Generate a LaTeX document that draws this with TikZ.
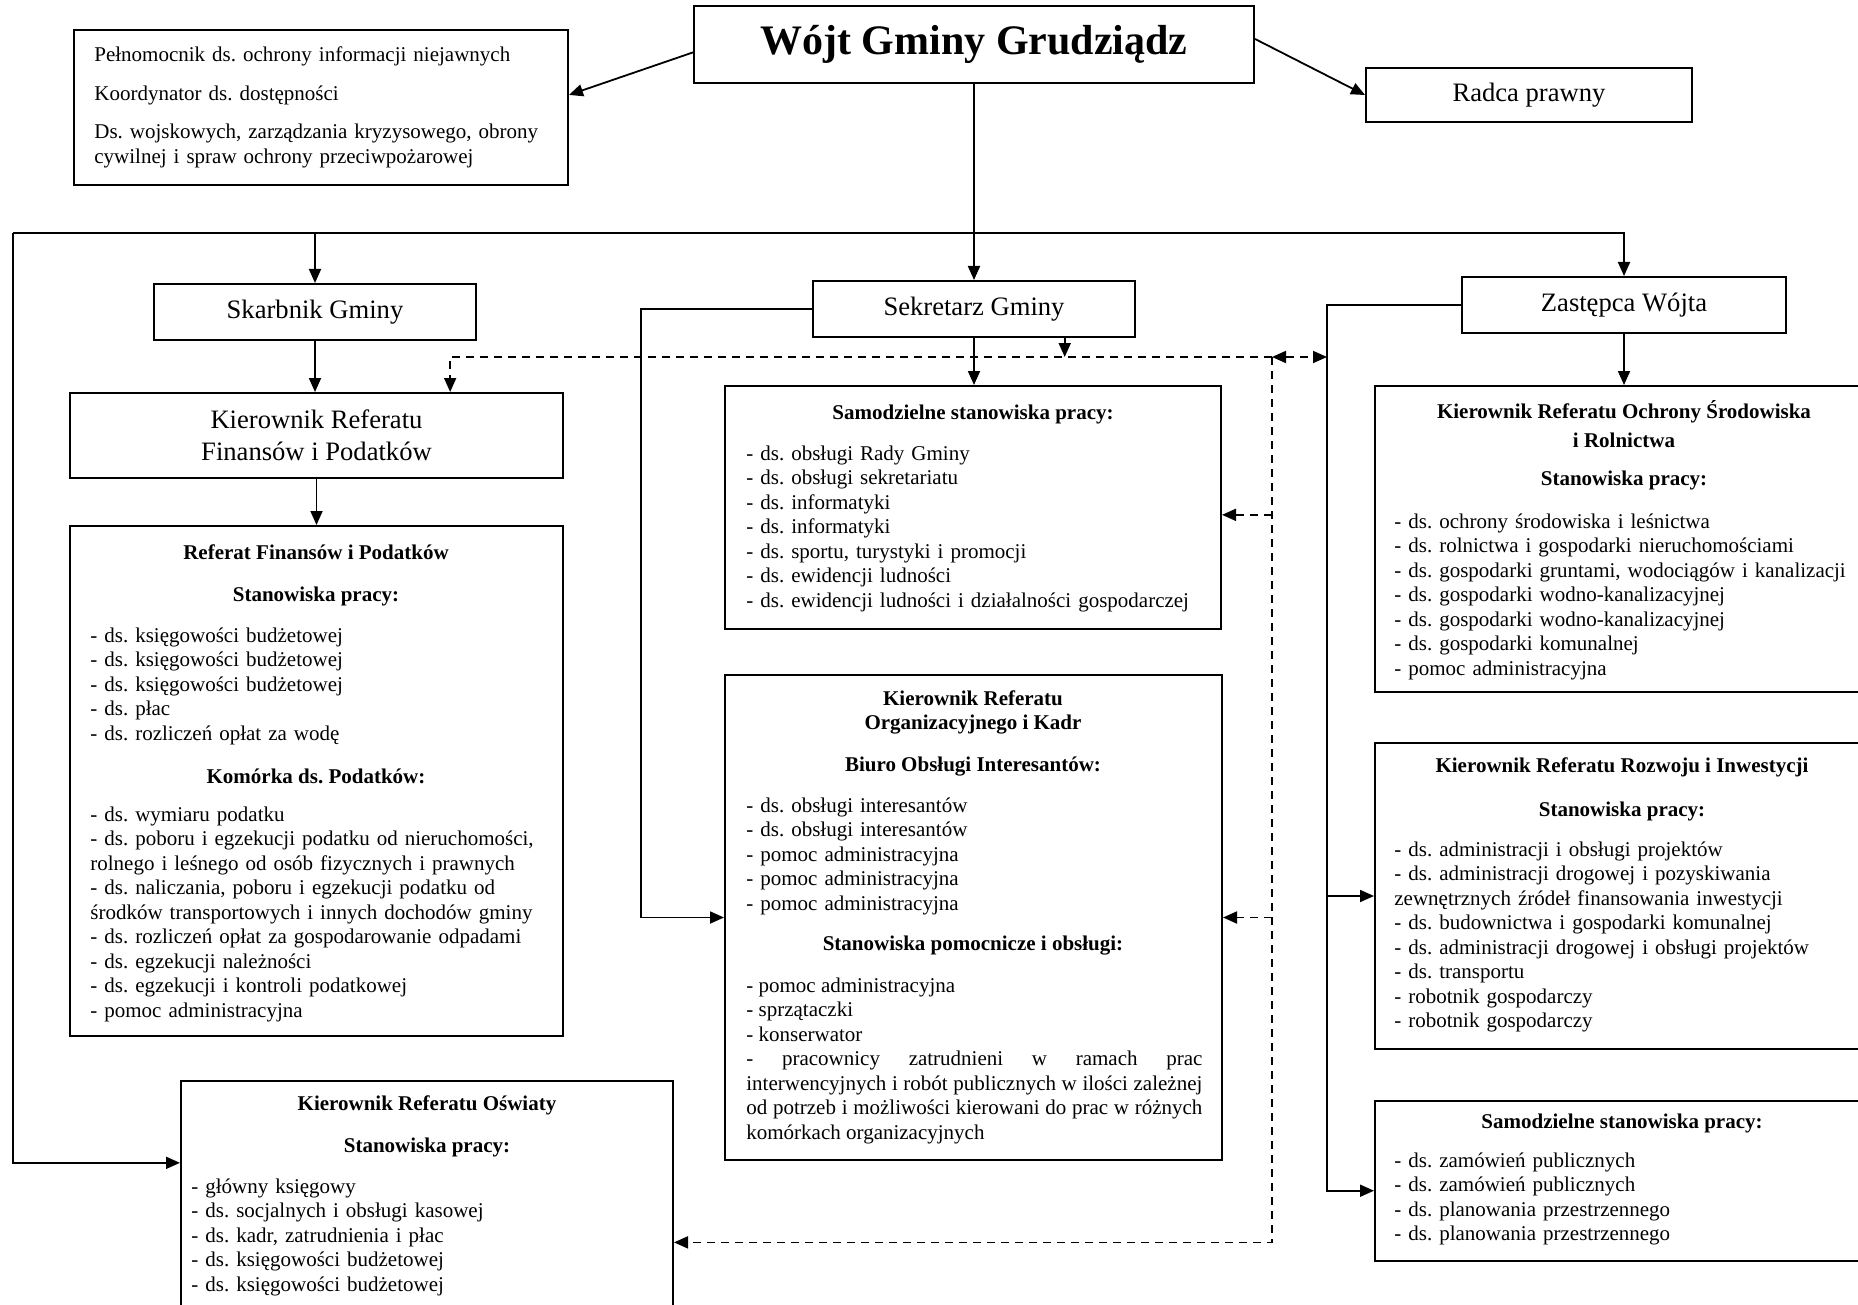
\documentclass[tikz,border=0pt]{standalone}
\usepackage{fontspec}
\setmainfont{Liberation Serif}
\usepackage{tikz}
\usetikzlibrary{positioning,calc,arrows.meta}
\frenchspacing

\tikzset{
  box/.style={draw, line width=1pt, inner sep=0pt},
  lbl/.style={font=\fontsize{13.3}{16}\selectfont, align=center},
  txt/.style={inner sep=0pt, font=\fontsize{10.5}{12.25}\selectfont},
  hd/.style={txt, font=\fontsize{10.5}{12.25}\selectfont\bfseries, align=center},
  lst/.style={txt, anchor=base west, text width=#1, align=left},
  lst/.default=235pt,
  conn/.style={line width=0.9pt, -{Triangle[length=7pt,width=6pt]}},
  dconn/.style={conn, dash pattern=on 4pt off 3pt},
}

\begin{document}
\begin{tikzpicture}[x=0.5pt, y=-0.5pt]
    \useasboundingbox (0,0) rectangle (1858,1305);
    \clip (0,0) rectangle (1858,1305);
    \fill[white] (0,0) rectangle (1858,1305);

    % Top
    \node [box, minimum width=280pt, minimum height=38.5pt, font=\fontsize{21}{24}\selectfont\bfseries] (wojt) at (974,44.5) {Wójt Gminy Grudziądz};
    \node [box, lbl, minimum width=163pt, minimum height=27pt] (radca) at (1529,95) {Radca prawny};
    \node [box, minimum width=247pt, minimum height=77.5pt] (info) at (321,107.5) {};
    \node [lst=240pt] (infoT) at (94,62) {Pełnomocnik ds. ochrony informacji niejawnych\\[7pt]
        Koordynator ds. dostępności\\[7pt]
        Ds. wojskowych, zarządzania kryzysowego, obrony\\
        cywilnej i spraw ochrony przeciwpożarowej};

    % Second level
    \node [box, lbl, minimum width=161pt, minimum height=28pt] (skarb) at (315,312) {Skarbnik Gminy};
    \node [box, lbl, minimum width=161pt, minimum height=28pt] (sekr) at (974,309) {Sekretarz Gminy};
    \node [box, lbl, minimum width=162pt, minimum height=28pt] (zast) at (1624,305) {Zastępca Wójta};

    % Finanse
    \node [box, lbl, minimum width=246.5pt, minimum height=42.5pt] (kierF) at (316.5,435.5) {Kierownik Referatu\\Finansów i Podatków};
    \node [box, minimum width=246.5pt, minimum height=255pt] (fin) at (316.5,781) {};
    \node [hd] (finH) at (316,552) {Referat Finansów i Podatków};
    \node [hd] (finS) at (316,596) {Stanowiska pracy:};
    \node [lst] (finL) at (90,642) {- ds. księgowości budżetowej\\
        - ds. księgowości budżetowej\\
        - ds. księgowości budżetowej\\
        - ds. płac\\
        - ds. rozliczeń opłat za wodę};
    \node [hd] (finK) at (316,776) {Komórka ds. Podatków:};
    \node [lst] (finP) at (90,821) {- ds. wymiaru podatku\\
        - ds. poboru i egzekucji podatku od nieruchomości,\\
        rolnego i leśnego od osób fizycznych i prawnych\\
        - ds. naliczania, poboru i egzekucji podatku od\\
        środków transportowych i innych dochodów gminy\\
        - ds. rozliczeń opłat za gospodarowanie odpadami\\
        - ds. egzekucji należności\\
        - ds. egzekucji i kontroli podatkowej\\
        - pomoc administracyjna};

    % Sekretarz
    \node [box, minimum width=248pt, minimum height=121.5pt] (sam) at (973,507.5) {};
    \node [hd] (samH) at (973,414) {Samodzielne stanowiska pracy:};
    \node [lst] (samL) at (746,460) {- ds. obsługi Rady Gminy\\
        - ds. obsługi sekretariatu\\
        - ds. informatyki\\
        - ds. informatyki\\
        - ds. sportu, turystyki i promocji\\
        - ds. ewidencji ludności\\
        - ds. ewidencji ludności i działalności gospodarczej};

    \node [box, minimum width=248.5pt, minimum height=242.5pt] (org) at (973.5,917.5) {};
    \node [hd] (orgH) at (973,712.5) {Kierownik Referatu\\Organizacyjnego i Kadr};
    \node [hd] (orgB) at (973,767) {Biuro Obsługi Interesantów:};
    \node [lst] (orgL) at (746,812) {- ds. obsługi interesantów\\
        - ds. obsługi interesantów\\
        - pomoc administracyjna\\
        - pomoc administracyjna\\
        - pomoc administracyjna};
    \node [hd] (orgS) at (973,946) {Stanowiska pomocnicze i obsługi:};
    \node [lst=228pt, align=justify] (orgP) at (746,992) {- pomoc administracyjna\\
        - sprzątaczki\\
        - konserwator\\
        - pracownicy zatrudnieni w ramach prac\linebreak
        interwencyjnych i robót publicznych w ilości zależnej\linebreak
        od potrzeb i możliwości kierowani do prac w różnych\linebreak
        komórkach organizacyjnych};

    % Zastepca
    \node [box, minimum width=249pt, minimum height=153pt] (och) at (1624,539) {};
    \node [hd] (ochH) at (1624,424) {Kierownik Referatu Ochrony Środowiska\\[2pt]i Rolnictwa};
    \node [hd] (ochS) at (1624,480) {Stanowiska pracy:};
    \node [lst] (ochL) at (1394,528) {- ds. ochrony środowiska i leśnictwa\\
        - ds. rolnictwa i gospodarki nieruchomościami\\
        - ds. gospodarki gruntami, wodociągów i kanalizacji\\
        - ds. gospodarki wodno-kanalizacyjnej\\
        - ds. gospodarki wodno-kanalizacyjnej\\
        - ds. gospodarki komunalnej\\
        - pomoc administracyjna};

    \node [box, minimum width=249pt, minimum height=153pt] (roz) at (1624,896) {};
    \node [hd] (rozH) at (1622,767) {Kierownik Referatu Rozwoju i Inwestycji};
    \node [hd] (rozS) at (1622,811) {Stanowiska pracy:};
    \node [lst] (rozL) at (1394,856) {- ds. administracji i obsługi projektów\\
        - ds. administracji drogowej i pozyskiwania\\
        zewnętrznych źródeł finansowania inwestycji\\
        - ds. budownictwa i gospodarki komunalnej\\
        - ds. administracji drogowej i obsługi projektów\\
        - ds. transportu\\
        - robotnik gospodarczy\\
        - robotnik gospodarczy};

    \node [box, minimum width=249pt, minimum height=80pt] (samR) at (1624,1181) {};
    \node [hd] (samRH) at (1622,1123) {Samodzielne stanowiska pracy:};
    \node [lst] (samRL) at (1394,1167) {- ds. zamówień publicznych\\
        - ds. zamówień publicznych\\
        - ds. planowania przestrzennego\\
        - ds. planowania przestrzennego};

    % Oswiata
    \node [box, minimum width=246pt, minimum height=124.5pt] (osw) at (427,1205.5) {};
    \node [hd] (oswH) at (427,1105) {Kierownik Referatu Oświaty};
    \node [hd] (oswS) at (427,1147) {Stanowiska pracy:};
    \node [lst] (oswL) at (191,1193) {- główny księgowy\\
        - ds. socjalnych i obsługi kasowej\\
        - ds. kadr, zatrudnienia i płac\\
        - ds. księgowości budżetowej\\
        - ds. księgowości budżetowej};

    % Connectors
    \coordinate (bus) at (13,233);
    \draw [conn] (wojt.south) -- (sekr.north);
    \draw [conn] (bus) -| (zast.north);
    \draw [conn] (skarb.north |- bus) -- (skarb.north);
    \draw [conn] (bus) |- ($(osw.north west)!0.33!(osw.south west)$);
    \draw [conn] ($(wojt.north west)!0.6!(wojt.south west)$) -- ($(info.north east)!0.42!(info.south east)$);
    \draw [conn] ($(wojt.north east)!0.43!(wojt.south east)$) -- (radca.west);

    \draw [conn] (skarb.south) -- (skarb.south |- kierF.north);
    \draw [conn] (kierF.south) -- (fin.north);
    \draw [conn] (sekr.south) -- (sekr.south |- sam.north);
    \draw [conn] (sekr.west) -- ++(-171,0) |- (org.west);
    \draw [conn] (zast.south) -- (och.north);
    \coordinate (zturn) at ($(zast.west)+(-134,0)$);
    \draw [conn] (zast.west) -- (zturn) |- (roz.west);
    \draw [conn] (zturn) |- ($(samR.north west)!0.56!(samR.south west)$);

    % Dashed links
    \coordinate (dj) at (1272,357);
    \coordinate (sekrR) at ($(sekr.south west)!0.78!(sekr.south east)$);
    \coordinate (samIn) at ($(sam.north east)!0.53!(sam.south east)$);
    \draw [conn] (sekrR) -- (sekrR |- dj);
    \draw [dconn] (dj) -| ($(kierF.north west)!0.77!(kierF.north east)$);
    \draw [dconn, {Triangle[length=7pt,width=6pt]}-{Triangle[length=7pt,width=6pt]}] (dj) -- (dj -| zturn);
    \draw [dconn] (dj) |- ($(osw.north east)!0.647!(osw.south east)$);
    \draw [dconn] (dj |- samIn) -- (samIn);
    \draw [dconn] (dj |- org.east) -- (org.east);
\end{tikzpicture}
\end{document}
